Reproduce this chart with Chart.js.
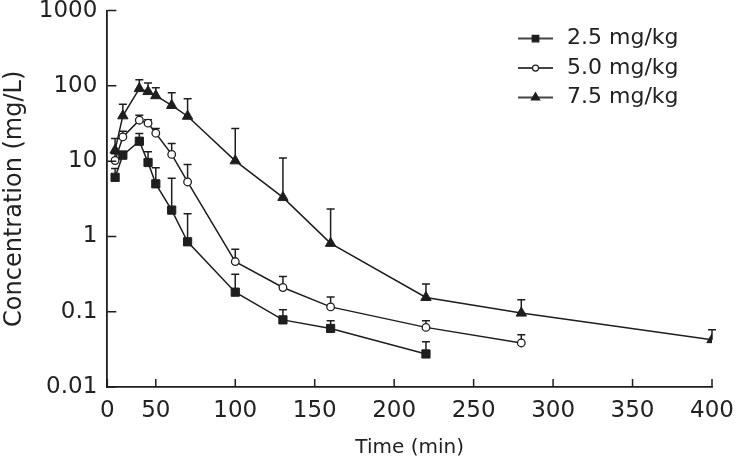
<!DOCTYPE html>
<html>
<head>
<meta charset="utf-8">
<script src="https://cdn.jsdelivr.net/npm/chart.js@4/dist/chart.umd.min.js"></script>
<style>
  html, body { margin: 0; padding: 0; background: #fff; }
  #wrap { width: 740px; height: 468px; }
</style>
</head>
<body>
<div id="wrap"><canvas id="pkChart"></canvas></div>
<script>
// sampling times (min)
const times = [8, 16, 33, 42, 50, 60, 70, 100, 130, 160, 220, 280, 400];

// mean concentration (mg/L) and SD, per dose
const dose25 = [6.1, 12, 18.4, 9.6, 5.0, 2.24, 0.85, 0.182, 0.078, 0.060, 0.0275];
const sd25 = [1.9, 1.5, 4.9, 3.7, 3.2, 3.7, 1.15, 0.134, 0.028, 0.016, 0.0125];

const dose50 = [10.2, 21, 35, 32, 23.5, 12.3, 5.3, 0.464, 0.21, 0.116, 0.062, 0.0385];
const sd50 = [2.3, 4, 5.6, 3.5, 3.6, 4.8, 3.7, 0.213, 0.084, 0.041, 0.014, 0.011];

const dose75 = [14, 40, 92, 84, 74, 55, 39.5, 10.1, 3.3, 0.81, 0.155, 0.096, 0.0426];
const sd75 = [6, 17, 29, 25, 20.6, 26, 28, 17, 7.7, 1.5, 0.078, 0.048, 0.015];

const seriesLabels = ['2.5 mg/kg', '5.0 mg/kg', '7.5 mg/kg'];
const yTicks = [0.01, 0.1, 1, 10, 100, 1000];

const INK = '#1e1e1e';
const TEXT = '#222';
const FONT = "'DejaVu Sans', sans-serif";

// the time axis is squeezed between 0 and 50 min
const BREAK_AT = 50;
const BREAK_RATIO = 0.61;
const warpTime = t => (t >= BREAK_AT ? t : BREAK_AT - (BREAK_AT - t) * BREAK_RATIO);
const unwarpTime = w => (w >= BREAK_AT ? w : BREAK_AT - (BREAK_AT - w) / BREAK_RATIO);

class BrokenLinearScale extends Chart.LinearScale {
    getPixelForValue(value) {
        if (value === null || value === undefined) return NaN;
        const lo = warpTime(this.min), hi = warpTime(this.max);
        return this.getPixelForDecimal((warpTime(value) - lo) / (hi - lo));
    }
    getValueForPixel(pixel) {
        const lo = warpTime(this.min), hi = warpTime(this.max);
        return unwarpTime(lo + this.getDecimalForPixel(pixel) * (hi - lo));
    }
}
BrokenLinearScale.id = 'brokenLinear';
BrokenLinearScale.defaults = Chart.LinearScale.defaults;
Chart.register(BrokenLinearScale);

function toPoints(values) {
    return values.map((v, i) => ({ x: times[i], y: v }));
}

// upper error bars (mean + SD)
const errorBarPlugin = {
    id: 'errorBars',
    beforeDatasetsDraw(chart) {
        const ctx = chart.ctx;
        const yScale = chart.scales.y;
        ctx.save();
        ctx.strokeStyle = INK;
        ctx.lineWidth = 1.5;
        chart.data.datasets.forEach((ds, di) => {
            const meta = chart.getDatasetMeta(di);
            meta.data.forEach((pt, i) => {
                const top = yScale.getPixelForValue(ds.data[i].y + ds.sd[i]);
                ctx.beginPath();
                ctx.moveTo(pt.x, pt.y);
                ctx.lineTo(pt.x, top);
                ctx.moveTo(pt.x - 4, top);
                ctx.lineTo(pt.x + 4, top);
                ctx.stroke();
            });
        });
        ctx.restore();
    }
};

// tick marks pointing into the plot
const innerTicksPlugin = {
    id: 'innerTicks',
    afterDraw(chart) {
        const { ctx, chartArea, scales } = chart;
        ctx.save();
        ctx.strokeStyle = INK;
        ctx.lineWidth = 1.5;
        ctx.beginPath();
        scales.x.ticks.forEach((t, i) => {
            const x = scales.x.getPixelForTick(i);
            ctx.moveTo(x, chartArea.bottom);
            ctx.lineTo(x, chartArea.bottom - 8);
        });
        scales.y.ticks.forEach((t, i) => {
            const y = scales.y.getPixelForTick(i);
            ctx.moveTo(chartArea.left, y);
            ctx.lineTo(chartArea.left + 9, y);
        });
        ctx.stroke();
        ctx.restore();
    }
};

// legend inside the plot, top right
const innerLegendPlugin = {
    id: 'innerLegend',
    afterDraw(chart) {
        const { ctx, chartArea } = chart;
        ctx.save();
        chart.data.datasets.forEach((ds, i) => {
            const y = chartArea.top + 28 + i * 29.5;
            const x0 = chartArea.right - 194;
            ctx.strokeStyle = '#444';
            ctx.lineWidth = 2;
            ctx.beginPath();
            ctx.moveTo(x0, y);
            ctx.lineTo(x0 + 35, y);
            ctx.stroke();
            ctx.fillStyle = ds.pointBackgroundColor;
            ctx.strokeStyle = INK;
            ctx.lineWidth = 1.2;
            Chart.helpers.drawPoint(ctx, {
                pointStyle: ds.pointStyle,
                radius: ds.pointRadius * 0.8,
                rotation: 0,
                borderWidth: 1.2
            }, x0 + 17.5, y);
            ctx.fillStyle = TEXT;
            ctx.font = '22px ' + FONT;
            ctx.textBaseline = 'middle';
            ctx.textAlign = 'left';
            ctx.fillText(ds.label, x0 + 49, y);
        });
        ctx.restore();
    }
};

new Chart(document.getElementById('pkChart'), {
    type: 'line',
    data: {
        datasets: [
            {
                label: seriesLabels[0],
                data: toPoints(dose25),
                sd: sd25,
                borderColor: INK,
                borderWidth: 1.5,
                pointStyle: 'rect',
                pointRadius: 5.8,
                pointBackgroundColor: INK,
                pointBorderColor: INK,
                pointBorderWidth: 1
            },
            {
                label: seriesLabels[1],
                data: toPoints(dose50),
                sd: sd50,
                borderColor: INK,
                borderWidth: 1.5,
                pointStyle: 'circle',
                pointRadius: 3.8,
                pointBackgroundColor: '#ffffff',
                pointBorderColor: INK,
                pointBorderWidth: 1.3
            },
            {
                label: seriesLabels[2],
                data: toPoints(dose75),
                sd: sd75,
                borderColor: INK,
                borderWidth: 1.5,
                pointStyle: 'triangle',
                pointRadius: 6,
                pointBackgroundColor: INK,
                pointBorderColor: INK,
                pointBorderWidth: 1
            }
        ]
    },
    options: {
        responsive: true,
        maintainAspectRatio: false,
        animation: false,
        layout: { padding: { top: 0, right: 28, bottom: 8, left: 0 } },
        plugins: {
            legend: { display: false },
            tooltip: { enabled: false }
        },
        scales: {
            x: {
                type: 'brokenLinear',
                min: 0,
                max: 400,
                grid: { display: false, drawTicks: false },
                border: { display: true, color: INK, width: 1.8 },
                ticks: {
                    stepSize: 50,
                    padding: 5.5,
                    color: TEXT,
                    font: { family: FONT, size: 23, lineHeight: 1.65 },
                    maxRotation: 0
                },
                title: {
                    display: true,
                    text: 'Time (min)',
                    color: TEXT,
                    font: { family: FONT, size: 20 },
                    padding: { top: 0, bottom: 0 }
                }
            },
            y: {
                type: 'logarithmic',
                min: 0.01,
                max: 1000,
                grid: { display: false, drawTicks: false },
                border: { display: true, color: INK, width: 1.8 },
                afterBuildTicks: scale => {
                    scale.ticks = yTicks.map(v => ({ value: v }));
                },
                ticks: {
                    padding: 10,
                    color: TEXT,
                    font: { family: FONT, size: 23, lineHeight: 0.05 },
                    callback: v => String(v)
                },
                title: {
                    display: true,
                    text: 'Concentration (mg/L)',
                    color: TEXT,
                    font: { family: FONT, size: 24 },
                    padding: { top: 0, bottom: 0 }
                }
            }
        }
    },
    plugins: [errorBarPlugin, innerTicksPlugin, innerLegendPlugin]
});
</script>
</body>
</html>
